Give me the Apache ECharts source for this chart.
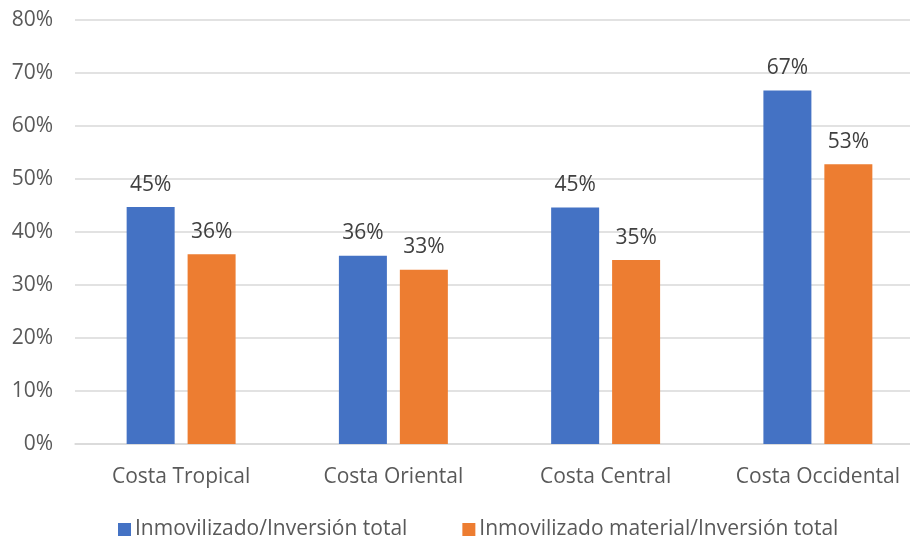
<!DOCTYPE html>
<html>
<head>
<meta charset="utf-8">
<script src="https://cdn.jsdelivr.net/npm/echarts@6/dist/echarts.min.js"></script>
<style>html,body{margin:0;padding:0;background:#fff;overflow:hidden;}#c{width:940px;height:543px;}</style>
</head>
<body>
<div id="c"></div>
<script>
const categories = ['Costa Tropical', 'Costa Oriental', 'Costa Central', 'Costa Occidental'];
const seriesNames = ['Inmovilizado/Inversión total', 'Inmovilizado material/Inversión total'];
const inmovilizado = [44.7, 35.5, 44.6, 66.7];
const inmovilizadoMaterial = [35.8, 32.9, 34.7, 52.8];
const yTicks = [0, 10, 20, 30, 40, 50, 60, 70, 80];

const font = 'Open Sans';
const chart = echarts.init(document.getElementById('c'), null, {renderer: 'canvas'});
const labelCfg = {
  show: true, position: 'top', distance: 12,
  color: '#404040', fontSize: 21, fontFamily: font,
  formatter: p => Math.round(p.value) + '%'
};
chart.setOption({
  animation: false,
  textStyle: {fontFamily: font},
  grid: {left: 75, top: 20, width: 849, height: 424, containLabel: false},
  legend: {
    data: seriesNames, top: 514, left: 113, itemGap: 55,
    icon: 'rect', itemWidth: 13, itemHeight: 13,
    textStyle: {color: '#595959', fontSize: 21, fontFamily: font, padding: [0, 0, 0, -1]}
  },
  xAxis: {
    type: 'category', data: categories,
    axisLine: {lineStyle: {color: '#d9d9d9', width: 1.5}},
    axisTick: {show: false},
    axisLabel: {color: '#595959', fontSize: 21, fontFamily: font, margin: 23, interval: 0, hideOverlap: false}
  },
  yAxis: {
    type: 'value', min: yTicks[0], max: yTicks[yTicks.length - 1], interval: 10,
    axisLine: {show: false}, axisTick: {show: false},
    axisLabel: {color: '#595959', fontSize: 21, fontFamily: font, margin: 22, formatter: v => v + '%'},
    splitLine: {lineStyle: {color: '#d9d9d9', width: 1.5}}
  },
  series: [
    {name: seriesNames[0], type: 'bar', data: inmovilizado, barWidth: 48, barGap: '27%',
     itemStyle: {color: '#4472c4'}, label: labelCfg},
    {name: seriesNames[1], type: 'bar', data: inmovilizadoMaterial, barWidth: 48, barGap: '27%',
     itemStyle: {color: '#ed7d31'}, label: labelCfg}
  ]
});
</script>
</body>
</html>
